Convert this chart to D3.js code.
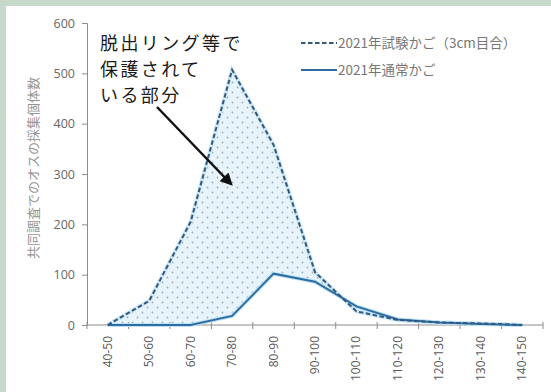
<!DOCTYPE html>
<html><head><meta charset="utf-8">
<script src="https://cdn.jsdelivr.net/npm/d3@7"></script>
<style>
html,body{margin:0;padding:0;background:#fff;}
svg{display:block;}
text{font-family:"Noto Sans CJK JP","Noto Sans",sans-serif;}
</style></head>
<body>
<svg id="c" width="551" height="392"></svg>
<script>
const categories = ["40-50","50-60","60-70","70-80","80-90","90-100","100-110","110-120","120-130","130-140","140-150"];
const trialValues = [0, 48, 205, 507, 358, 105, 27, 10, 5, 3, 0];
const normalValues = [0, 0, 0, 18, 102, 86, 37, 11, 5, 2, 0];
const yTicks = [0, 100, 200, 300, 400, 500, 600];
const seriesNames = ["2021年試験かご（3cm目合）", "2021年通常かご"];
const yTitle = "共同調査でのオスの採集個体数";
const noteLines = ["脱出リング等で", "保護されて", "いる部分"];

const svg = d3.select("#c");
// frame
svg.append("rect").attr("x",0).attr("y",0).attr("width",551).attr("height",392).attr("fill","#c6d9ca");
svg.append("rect").attr("x",6).attr("y",6).attr("width",545).attr("height",386).attr("fill","#ffffff");

const x = d3.scaleBand().domain(categories).range([87, 543]);
const y = d3.scaleLinear().domain([0, 600]).range([325, 23]);
const cx = c => x(c) + x.bandwidth()/2;

// pattern
const defs = svg.append("defs");
const pat = defs.append("pattern").attr("id","dots").attr("patternUnits","userSpaceOnUse")
  .attr("width",10).attr("height",10);
pat.append("rect").attr("width",10).attr("height",10).attr("fill","#e8f4fb");
pat.append("circle").attr("cx",2.5).attr("cy",2.5).attr("r",0.9).attr("fill","#a0abb4");
pat.append("circle").attr("cx",7.5).attr("cy",7.5).attr("r",0.9).attr("fill","#a0abb4");

const rows = categories.map((c,i)=>({c, t: trialValues[i], n: normalValues[i]}));

const area = d3.area().x(d=>cx(d.c)).y0(d=>y(d.n)).y1(d=>y(d.t));
svg.append("path").datum(rows).attr("d", area).attr("fill","url(#dots)");

// axes
const yAxis = d3.axisLeft(y).tickValues(yTicks).tickSize(5).tickPadding(7);
const gy = svg.append("g").attr("transform","translate(87,0)").call(yAxis);
gy.select(".domain").attr("stroke","#8c8c8c");
gy.selectAll(".tick line").attr("stroke","#8c8c8c");
gy.selectAll(".tick text").attr("fill","#666").attr("font-size",12.5).style("font-family","'Open Sans','Noto Sans',sans-serif");

const gx = svg.append("g").attr("transform","translate(0,325)");
gx.append("line").attr("x1",87).attr("x2",543).attr("y1",0).attr("y2",0).attr("stroke","#8c8c8c");
const bounds = categories.map(c=>x(c)).concat([x.range()[1]]);
gx.selectAll(".tk").data(bounds).enter().append("line")
  .attr("x1",d=>d).attr("x2",d=>d).attr("y1",-3).attr("y2",4).attr("stroke","#8c8c8c");
gx.selectAll(".lbl").data(categories).enter().append("text")
  .attr("transform", c=>`translate(${cx(c)+4},11) rotate(-90)`)
  .attr("text-anchor","end").attr("fill","#595959").attr("font-size",12)
  .style("font-family","'Open Sans','Noto Sans',sans-serif")
  .text(c=>c);

// lines
const lineT = d3.line().x(d=>cx(d.c)).y(d=>y(d.t));
const lineN = d3.line().x(d=>cx(d.c)).y(d=>y(d.n));
svg.append("path").datum(rows).attr("d",lineT).attr("fill","none").attr("stroke","#cde9f7").attr("stroke-width",4);
svg.append("path").datum(rows).attr("d",lineN).attr("fill","none").attr("stroke","#bfe4f6").attr("stroke-width",4);
svg.append("path").datum(rows).attr("d",lineN).attr("fill","none").attr("stroke","#2d6da3").attr("stroke-width",2);
svg.append("path").datum(rows).attr("d",lineT).attr("fill","none").attr("stroke","#34587c").attr("stroke-width",2).attr("stroke-dasharray","4.5,2.5");

// y title
svg.append("text").attr("transform","translate(38,168) rotate(-90)")
  .attr("text-anchor","middle").attr("fill","#959595").attr("font-size",13).text(yTitle);

// legend
const lg = svg.append("g");
lg.append("line").attr("x1",301).attr("x2",337).attr("y1",43).attr("y2",43).attr("stroke","#34587c").attr("stroke-width",2).attr("stroke-dasharray","4.5,2.5");
lg.append("text").attr("x",338).attr("y",48).attr("fill","#777").attr("font-size",13.5).text(seriesNames[0]);
lg.append("line").attr("x1",301).attr("x2",337).attr("y1",70).attr("y2",70).attr("stroke","#2d6da3").attr("stroke-width",2);
lg.append("text").attr("x",338).attr("y",75).attr("fill","#777").attr("font-size",13.5).text(seriesNames[1]);

// annotation
const note = svg.append("text").attr("x",100).attr("fill","#1a1a1a").attr("font-size",18).attr("letter-spacing",2.4);
noteLines.forEach((t,i)=>note.append("tspan").attr("x",100).attr("y",50+i*26).text(t));

defs.append("marker").attr("id","ah").attr("viewBox","0 0 10 10").attr("refX",8).attr("refY",5)
  .attr("markerWidth",5).attr("markerHeight",5).attr("orient","auto")
  .append("path").attr("d","M0,0 L10,5 L0,10 z").attr("fill","#111");
svg.append("line").attr("x1",157).attr("y1",107).attr("x2",231).attr("y2",184)
  .attr("stroke","#111").attr("stroke-width",2.5).attr("marker-end","url(#ah)");
</script>
</body></html>
